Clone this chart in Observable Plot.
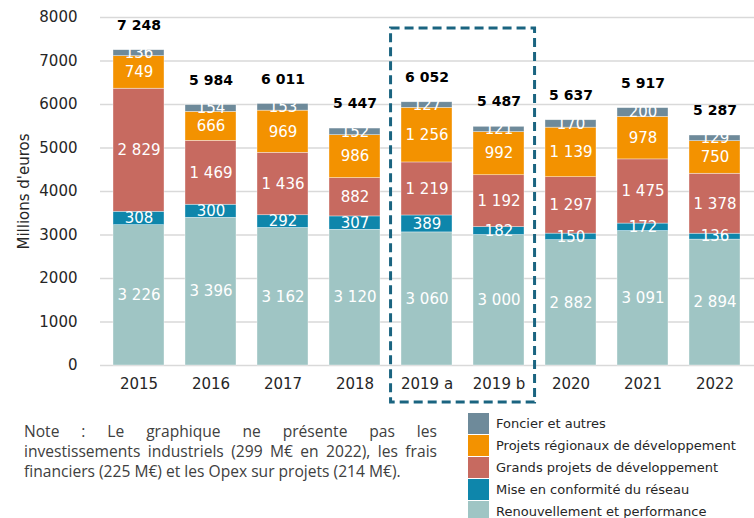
<!DOCTYPE html>
<html>
<head>
<meta charset="utf-8">
<script src="https://cdn.jsdelivr.net/npm/d3@7"></script>
<script src="https://cdn.jsdelivr.net/npm/@observablehq/plot@0.6"></script>
<style>
  body { margin: 0; background: #fff; }
  #wrap { position: relative; width: 754px; height: 518px; overflow: hidden; font-family: "DejaVu Sans", sans-serif; }
  #note { position: absolute; left: 24px; top: 421px; width: 413px; font-family: "Open Sans", sans-serif; font-size: 15.6px; line-height: 20px; color: #404040; }
  #note .j { text-align: justify; text-align-last: justify; white-space: nowrap; }
  #note .l { text-align: left; white-space: nowrap; }
  #legend { position: absolute; left: 468px; top: 412px; font-size: 13px; color: #262626; }
  .li { display: flex; align-items: center; height: 22px; }
  .sw { width: 21px; height: 21px; margin-right: 7px; }
</style>
</head>
<body>
<div id="wrap">
  <div id="chart"></div>
  <div id="note"><div class="j">Note : Le graphique ne présente pas les</div><div class="j">investissements industriels (299 M€ en 2022), les frais</div><div class="l">financiers (225 M€) et les Opex sur projets (214 M€).</div></div>
  <div id="legend"></div>
</div>
<script>
const categories = ["2015", "2016", "2017", "2018", "2019 a", "2019 b", "2020", "2021", "2022"];
const series = ["Renouvellement et performance", "Mise en conformité du réseau", "Grands projets de développement", "Projets régionaux de développement", "Foncier et autres"];
const renouvellement = [3226, 3396, 3162, 3120, 3060, 3000, 2882, 3091, 2894];
const conformite = [308, 300, 292, 307, 389, 182, 150, 172, 136];
const grandsProjets = [2829, 1469, 1436, 882, 1219, 1192, 1297, 1475, 1378];
const projetsRegionaux = [749, 666, 969, 986, 1256, 992, 1139, 978, 750];
const foncier = [136, 154, 153, 152, 127, 121, 170, 200, 129];
const totals = [7248, 5984, 6011, 5447, 6052, 5487, 5637, 5917, 5287];
const highlighted = ["2019 a", "2019 b"];
const yTicks = [0, 1000, 2000, 3000, 4000, 5000, 6000, 7000, 8000];
const colors = ["#9fc5c4", "#0e86ab", "#c76a60", "#f39200", "#6e8a9a"];

const seriesValues = [renouvellement, conformite, grandsProjets, projetsRegionaux, foncier];
const data = [];
series.forEach((s, si) => categories.forEach((c, ci) => data.push({year: c, cat: s, value: seriesValues[si][ci]})));
const totalData = categories.map((c, i) => ({year: c, total: totals[i]}));

const fr = d3.formatLocale({decimal: ",", thousands: "\u00a0", grouping: [3], currency: ["", " €"]});
const fmt = fr.format(",d");

const padding = 0.29;

function highlightBox(index, scales, values, dimensions) {
  const x = scales.x, y = scales.y;
  const step = x(highlighted[1]) - x(highlighted[0]);
  const bw = step * (1 - padding);
  const left = x(highlighted[0]) - step * padding / 2;
  const right = x(highlighted[1]) + bw + step * padding / 2;
  const top = y(7750);
  const bottom = dimensions.height - 3;
  const g = d3.create("svg:g");
  g.append("rect")
    .attr("x", left).attr("y", top)
    .attr("width", right - left).attr("height", bottom - top)
    .attr("fill", "none")
    .attr("stroke", "#1a6480")
    .attr("stroke-width", 3)
    .attr("stroke-dasharray", "9,5");
  return g.node();
}

const chart = Plot.plot({
  width: 754,
  height: 405,
  marginTop: 17,
  marginBottom: 40,
  marginLeft: 100,
  marginRight: 0,
  style: {fontFamily: "DejaVu Sans, sans-serif", fontSize: "15px", color: "#262626", background: "#fff"},
  x: {domain: categories, paddingInner: padding, paddingOuter: padding / 2, label: null},
  y: {domain: [0, 8000], label: null},
  color: {domain: series, range: colors},
  marks: [
    Plot.gridY(yTicks, {stroke: "#d9d9d9", strokeOpacity: 1, strokeWidth: 1.5}),
    Plot.barY(data, Plot.stackY({x: "year", y: "value", fill: "cat", order: series, stroke: "#ffffff", strokeWidth: 0.6, strokeOpacity: 0.6})),
    Plot.text(data, Plot.stackY({x: "year", y: "value", z: "cat", order: series, text: d => fmt(d.value), fill: "#ffffff", fontSize: 15, lineAnchor: "middle"})),
    Plot.text(totalData, {x: "year", y: "total", text: d => fmt(d.total), dy: -25, fontWeight: "bold", fontSize: 14, fill: "#000", lineAnchor: "middle"}),
    Plot.axisY({ticks: yTicks, tickSize: 0, tickPadding: 23, tickFormat: d => String(d), label: "Millions d'euros", labelAnchor: "center", labelArrow: "none", labelOffset: 82, fontSize: 15}),
    Plot.axisX({tickSize: 0, tickPadding: 13, label: null, fontSize: 15}),
    highlightBox
  ]
});
document.getElementById("chart").appendChild(chart);

const legend = document.getElementById("legend");
series.slice().reverse().forEach((s) => {
  const i = series.indexOf(s);
  const row = document.createElement("div");
  row.className = "li";
  const sw = document.createElement("div");
  sw.className = "sw";
  sw.style.background = colors[i];
  const t = document.createElement("span");
  t.textContent = s;
  row.appendChild(sw);
  row.appendChild(t);
  legend.appendChild(row);
});
</script>
</body>
</html>
